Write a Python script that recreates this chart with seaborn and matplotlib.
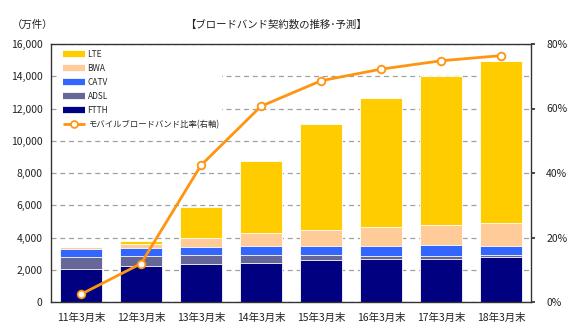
import numpy as np
import pandas as pd
import matplotlib
matplotlib.use("Agg")
import matplotlib.pyplot as plt
from matplotlib.lines import Line2D
import seaborn as sns

categories = ["11年3月末", "12年3月末", "13年3月末", "14年3月末", "15年3月末", "16年3月末", "17年3月末", "18年3月末"]
ftth = [2030, 2210, 2340, 2440, 2580, 2650, 2690, 2770]
adsl = [780, 660, 580, 450, 310, 230, 190, 165]
catv = [460, 480, 475, 560, 560, 600, 640, 560]
bwa = [120, 230, 560, 810, 1010, 1150, 1240, 1385]
lte = [0, 220, 1960, 4490, 6580, 8000, 9240, 10090]
mobile_ratio = [2.4, 11.9, 42.4, 60.7, 68.6, 72.2, 74.8, 76.4]

series_names = ["FTTH", "ADSL", "CATV", "BWA", "LTE"]
series_vals = [ftth, adsl, catv, bwa, lte]
colors = {"FTTH": "#000080", "ADSL": "#666699", "CATV": "#3366FF", "BWA": "#FFCC99", "LTE": "#FFCC00"}
line_color = "#FF9411"

sns.set_theme(style="white")
plt.rcParams["font.family"] = ["Noto Sans CJK JP", "DejaVu Sans"]

fig = plt.figure(figsize=(5.68, 3.33), dpi=100)
ax = fig.add_axes([51/568, 31/333, 480/568, 258/333])

cum = np.cumsum(np.array(series_vals), axis=0)
df = pd.DataFrame({"cat": categories})
# draw from top (largest cumulative) to bottom
for i in range(len(series_names) - 1, -1, -1):
    name = series_names[i]
    df["v"] = cum[i]
    sns.barplot(data=df, x="cat", y="v", color=colors[name], saturation=1, width=0.7,
                edgecolor="white", linewidth=0.6, ax=ax, zorder=2)

ax.set_ylim(0, 16000)
ax.set_xlim(-0.5, 7.5)
ax.set_yticks(np.arange(0, 16001, 2000))
ax.set_yticklabels([f"{v:,}" for v in range(0, 16001, 2000)])
ax.set_xlabel("")
ax.set_ylabel("")
ax.yaxis.grid(True, linestyle=(0, (4, 3)), color="#A0A0A0", linewidth=0.9, zorder=0)
ax.set_axisbelow(True)
ax.tick_params(axis="y", length=0, labelsize=7.5, pad=6, labelcolor="#222222")
ax.tick_params(axis="x", which="major", length=0, labelsize=7.5, pad=8, labelcolor="#222222")
ax.set_xticks(np.arange(-0.5, 8, 1), minor=True)
ax.tick_params(axis="x", which="minor", length=3, width=0.8, color="#333333", direction="out")
for s in ax.spines.values():
    s.set_color("#333333")
    s.set_linewidth(1.0)
    s.set_visible(True)

ax2 = ax.twinx()
sns.lineplot(x=np.arange(len(categories)), y=mobile_ratio, ax=ax2, color=line_color, linewidth=2,
             marker="o", markersize=5.5, markerfacecolor="white", markeredgecolor=line_color,
             markeredgewidth=1.3, zorder=5)
ax2.set_ylim(0, 80)
ax2.set_yticks(np.arange(0, 81, 20))
ax2.set_yticklabels([f"{v}%" for v in range(0, 81, 20)])
ax2.tick_params(axis="y", length=3, labelsize=7.5, pad=8, labelcolor="#222222", color="#333333")
ax2.set_ylabel("")
ax2.grid(False)
for s in ax2.spines.values():
    s.set_visible(False)

def bar_handle(c):
    return Line2D([0], [0], color=c, lw=4.5, solid_capstyle="butt")

handles = [bar_handle(colors["LTE"]), bar_handle(colors["BWA"]), bar_handle(colors["CATV"]),
           bar_handle(colors["ADSL"]), bar_handle(colors["FTTH"]),
           Line2D([0], [0], color=line_color, lw=2, marker="o", markersize=5, solid_capstyle="butt",
                  markerfacecolor="white", markeredgecolor=line_color, markeredgewidth=1.2)]
labels = ["LTE", "BWA", "CATV", "ADSL", "FTTH", "モバイルブロードバンド比率(右軸)"]
leg = ax.legend(handles, labels, loc="upper left", bbox_to_anchor=(0.012, 1.0), frameon=True,
                fontsize=6, handlelength=2.7, handletextpad=0.3, labelspacing=0.6,
                borderpad=0.4, borderaxespad=0.3, facecolor="white", framealpha=1.0,
                edgecolor="none", fancybox=False)
leg.set_zorder(10)

fig.text(12/568, 1 - 25/333, "（万件）", fontsize=7.5, color="#222222", va="center", ha="left")
fig.text(276/568, 1 - 25/333, "【ブロードバンド契約数の推移･予測】", fontsize=7.5, color="#222222",
         va="center", ha="center")

fig.savefig("out.png", dpi=100)
